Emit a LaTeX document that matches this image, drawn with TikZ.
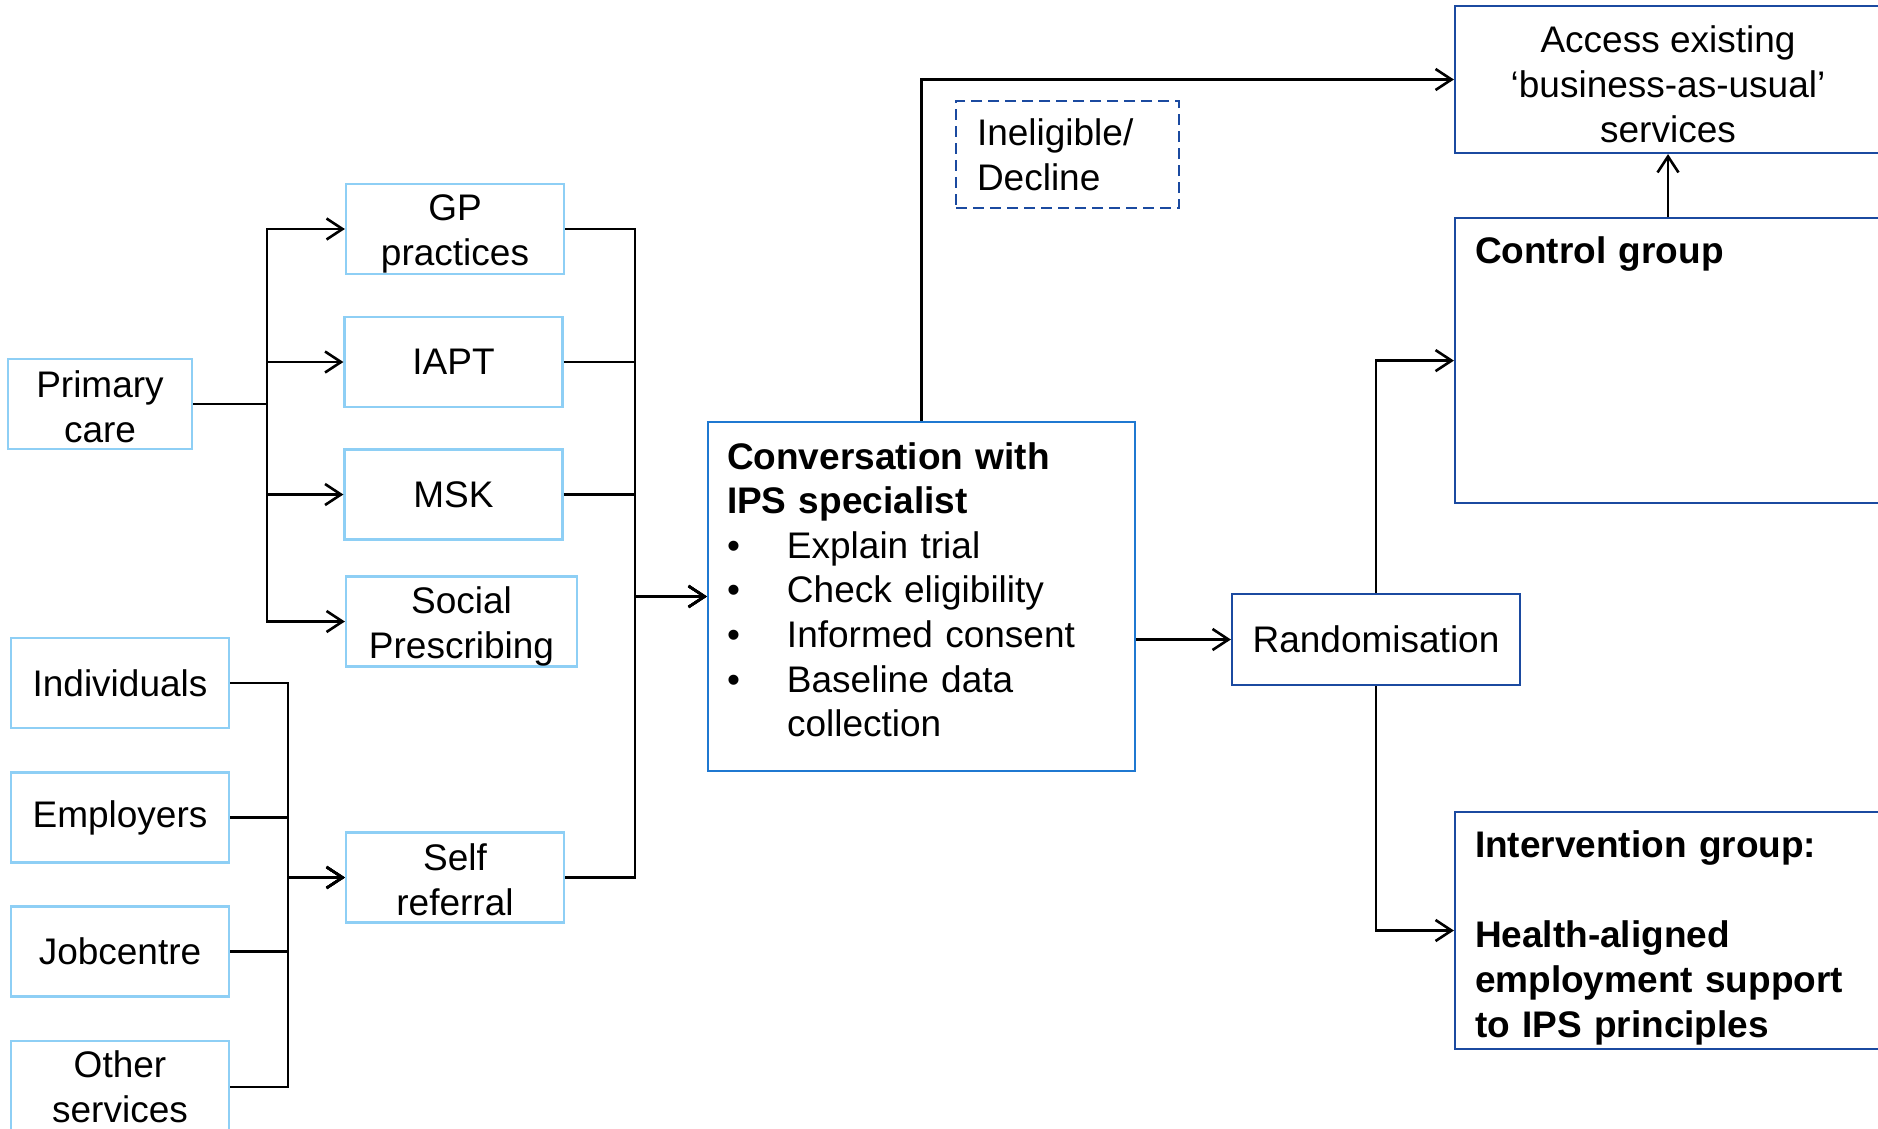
\documentclass[tikz,border=0pt]{standalone}
\usepackage{fontspec}
\setmainfont{Liberation Sans}
\usetikzlibrary{arrows.meta,positioning}
\definecolor{lightblu}{HTML}{8ECFF5}
\definecolor{midblu}{HTML}{1F78D1}
\definecolor{darkblu}{HTML}{1B4AA0}
\newcommand\vpad[1]{\rule{0pt}{#1}}

\begin{document}
\begin{tikzpicture}[
		x=1pt, y=-1pt,
		font=\fontsize{37}{45}\selectfont,
		every node/.style = {shape=rectangle, align=center, inner sep=0pt},
		src/.style={draw=lightblu, line width=2.2pt, minimum width=218pt, minimum height=90pt},
		grp/.style={draw=darkblu, line width=2.2pt, minimum width=426pt},
		arr/.style={line width=2.6pt, -{Straight Barb[length=16pt,width=21pt]}},
		]
		\useasboundingbox (0,0) rectangle (1878,1128);
		
		% referral sources
		\node[src, minimum width=184pt] (prim) at (100,404) {\vpad{32pt}Primary\\care};
		\node[src] (gp)     at (455,229)   {\vpad{36.5pt}GP\\practices};
		\node[src] (iapt)   at (453.5,362) {IAPT};
		\node[src] (msk)    at (453.5,494.5) {MSK};
		\node[src, minimum width=231pt] (social) at (461.5,621.5) {\vpad{36.5pt}Social\\Prescribing};
		\node[src] (indiv)  at (120,683)   {Individuals};
		\node[src] (empl)   at (120,817.5) {Employers};
		\node[src] (jobc)   at (120,951.5) {Jobcentre};
		\node[src, minimum height=92pt] (other) at (120,1087) {Other\\services};
		\node[src] (self)   at (455,877.5) {\vpad{32pt}Self\\referral};
		
		% conversation and outcomes
		\node[draw=midblu, line width=2.2pt, minimum width=427pt, minimum height=349pt,
			text width=389pt, align=left, font=\fontsize{37}{44.6}\selectfont] (conv) at (921.5,596.5)
			{\textbf{Conversation with}\\\textbf{IPS specialist}\\
			\makebox[60pt][l]{•}Explain trial\\
			\makebox[60pt][l]{•}Check eligibility\\
			\makebox[60pt][l]{•}Informed consent\\
			\makebox[60pt][l]{•}Baseline data\\
			\hspace*{60pt}collection\rule[-14pt]{0pt}{14pt}};
		\node[draw=darkblu, line width=2pt, dash pattern=on 11pt off 6pt,
			minimum width=223pt, minimum height=107pt, text width=181pt, align=left]
			(inel) at (1067.5,154.5) {Ineligible/\\Decline};
		\node[grp, minimum height=147pt] (access) at (1668,79.5)
			{\vpad{36.5pt}Access existing\\‘business-as-usual’\\services};
		\node[grp, anchor=north, text width=386pt, align=left, inner xsep=20pt,
			text height=45pt, text depth=240pt] (control) at (1668,217) {\textbf{Control group}};
		\node[draw=darkblu, line width=2.2pt, minimum width=288pt, minimum height=91pt]
			(rand) at (1376,639.5) {Randomisation};
		\node[grp, minimum height=237pt, text width=386pt, align=left] (interv) at (1668,930.5)
			{\vpad{41pt}\textbf{Intervention group:}\\[45pt]\textbf{Health-aligned}\\
			\textbf{employment support}\\\textbf{to IPS principles}};
		
		\coordinate (mbus) at (635,0);
		
		\foreach \t in {gp,iapt,msk,social}
			\draw[arr] (prim.east) -- ++(74pt,0) |- (\t.west);
		\foreach \s in {indiv,empl,jobc,other}
			\draw[arr] (\s.east) -- ++(58pt,0) |- (self.west);
		\foreach \s in {gp,iapt,msk,self}
			\draw[arr] (\s.east) -- (\s.east -| mbus) |- (conv.west);
		\draw[arr] (conv.north) |- (access.west);
		\draw[arr] (conv.east |- rand.west) -- (rand.west);
		\draw[arr] (rand.north) |- (control.west);
		\draw[arr] (rand.south) |- (interv.west);
		\draw[arr] (control.north) -- (access.south);
\end{tikzpicture}
\end{document}
